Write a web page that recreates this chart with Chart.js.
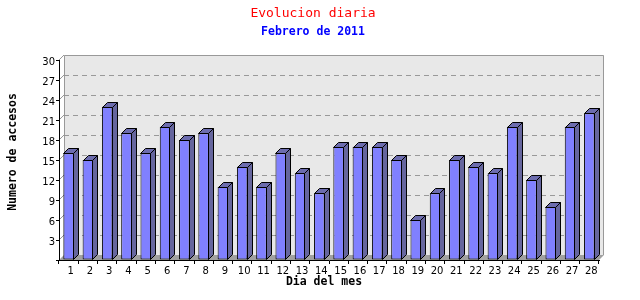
<!DOCTYPE html>
<html>
<head>
<meta charset="utf-8">
<script src="https://cdn.jsdelivr.net/npm/chart.js@4/dist/chart.umd.min.js"></script>
<style>
  html, body { margin: 0; padding: 0; background: #fff; }
  #c { display: block; }
</style>
</head>
<body>
<canvas id="c" width="640" height="300"></canvas>
<script>
const days = ['1','2','3','4','5','6','7','8','9','10','11','12','13','14','15','16','17','18','19','20','21','22','23','24','25','26','27','28'];
const accesos = [16,15,23,19,16,20,18,19,11,14,11,16,13,10,17,17,17,15,6,10,15,14,13,20,12,8,20,22];
const yTicks = [0,3,6,9,12,15,18,21,24,27,30];
const chartTitle = 'Evolucion diaria';
const chartSubtitle = 'Febrero de 2011';
const xTitle = 'Dia del mes';
const yTitle = 'Numero de accesos';

const D = 5; // 3D depth in px

const threeD = {
  id: 'threeD',
  beforeDraw(chart) {
    const {ctx, chartArea: a, scales: {y}} = chart;
    ctx.save();
    ctx.fillStyle = '#e8e8e8';
    ctx.fillRect(a.left + D, a.top - D, a.right - a.left, a.bottom - a.top);
    ctx.fillStyle = '#a0a0a0';
    ctx.beginPath();
    ctx.moveTo(a.left, a.bottom);
    ctx.lineTo(a.left + D, a.bottom - D);
    ctx.lineTo(a.right + D, a.bottom - D);
    ctx.lineTo(a.right, a.bottom);
    ctx.closePath();
    ctx.fill();
    ctx.strokeStyle = '#999999';
    ctx.lineWidth = 1;
    ctx.setLineDash([5, 4]);
    yTicks.forEach(v => {
      if (v === 0 || v === 30) return;
      const py = Math.round(y.getPixelForValue(v) - D) + 0.5;
      ctx.beginPath();
      ctx.moveTo(a.left + D, py);
      ctx.lineTo(a.right + D, py);
      ctx.stroke();
    });
    ctx.setLineDash([]);
    yTicks.forEach(v => {
      if (v === 0) return;
      const py = y.getPixelForValue(v);
      ctx.beginPath();
      ctx.moveTo(a.left, py);
      ctx.lineTo(a.left + D, py - D);
      ctx.stroke();
    });
    ctx.beginPath();
    const L = Math.round(a.left + D) + 0.5, R = Math.round(a.right + D) - 0.5;
    const T = Math.round(a.top - D) + 0.5, B = Math.round(a.bottom - D);
    ctx.moveTo(L, B);
    ctx.lineTo(L, T);
    ctx.lineTo(R, T);
    ctx.lineTo(R, B);
    ctx.stroke();
    ctx.restore();
  },
  afterDatasetsDraw(chart) {
    const {ctx} = chart;
    const meta = chart.getDatasetMeta(0);
    ctx.save();
    ctx.lineWidth = 1;
    ctx.strokeStyle = '#000';
    meta.data.forEach(bar => {
      const l = Math.round(bar.x - bar.width / 2) + 0.5;
      const r = Math.round(bar.x + bar.width / 2) - 0.5;
      const t = Math.round(bar.y) + 0.5;
      const b = Math.round(bar.base) - 0.5;
      ctx.fillStyle = '#6c6cae';
      ctx.beginPath();
      ctx.moveTo(l, t);
      ctx.lineTo(l + D, t - D);
      ctx.lineTo(r + D, t - D);
      ctx.lineTo(r, t);
      ctx.closePath();
      ctx.fill();
      ctx.stroke();
      ctx.fillStyle = '#66669e';
      ctx.beginPath();
      ctx.moveTo(r, t);
      ctx.lineTo(r + D, t - D);
      ctx.lineTo(r + D, b - D);
      ctx.lineTo(r, b);
      ctx.closePath();
      ctx.fill();
      ctx.stroke();
    });
    ctx.restore();
  },
  afterDraw(chart) {
    const {ctx} = chart;
    ctx.save();
    ctx.textAlign = 'center';
    ctx.textBaseline = 'middle';
    ctx.fillStyle = '#ff0000';
    ctx.font = '13px "DejaVu Sans Mono"';
    ctx.fillText(chartTitle, 313, 14);
    ctx.fillStyle = '#0000ff';
    ctx.font = 'bold 11.5px "DejaVu Sans Mono"';
    ctx.fillText(chartSubtitle, 313, 32);
    ctx.fillStyle = '#000';
    ctx.font = 'bold 11.5px "DejaVu Sans Mono"';
    ctx.fillText(xTitle, 324, 282);
    ctx.translate(13, 152);
    ctx.rotate(-Math.PI / 2);
    ctx.fillText(yTitle, 0, 0);
    ctx.restore();
  }
};

new Chart(document.getElementById('c'), {
  type: 'bar',
  data: {
    labels: days,
    datasets: [{
      data: accesos,
      backgroundColor: '#8080ff',
      borderColor: '#000',
      borderWidth: 1,
      borderSkipped: false,
      barPercentage: 0.55,
      categoryPercentage: 1.0
    }]
  },
  options: {
    responsive: false,
    devicePixelRatio: 1,
    animation: false,
    layout: { padding: { top: 60, right: 41, left: 0, bottom: 0 } },
    plugins: { legend: { display: false }, tooltip: { enabled: false }, title: { display: false } },
    scales: {
      x: {
        grid: { offset: true, drawOnChartArea: false, drawTicks: true, tickLength: 4, color: '#000' },
        border: { display: true, color: '#000' },
        ticks: { color: '#000', font: { family: 'DejaVu Sans', size: 10 }, padding: 1, labelOffset: 2, maxRotation: 0, autoSkip: false },
        afterFit(s) { s.height = 40; }
      },
      y: {
        min: 0, max: 30,
        afterBuildTicks(s) { s.ticks = yTicks.map(v => ({ value: v })); },
        grid: { drawOnChartArea: false, drawTicks: true, tickLength: 3, color: '#000' },
        border: { display: true, color: '#000' },
        ticks: { color: '#000', font: { family: 'DejaVu Sans', size: 10 }, padding: 1, labelOffset: 2,
                 callback: v => v === 0 ? '' : String(v) },
        afterFit(s) { s.width = 59; }
      }
    }
  },
  plugins: [threeD]
});
</script>
</body>
</html>
